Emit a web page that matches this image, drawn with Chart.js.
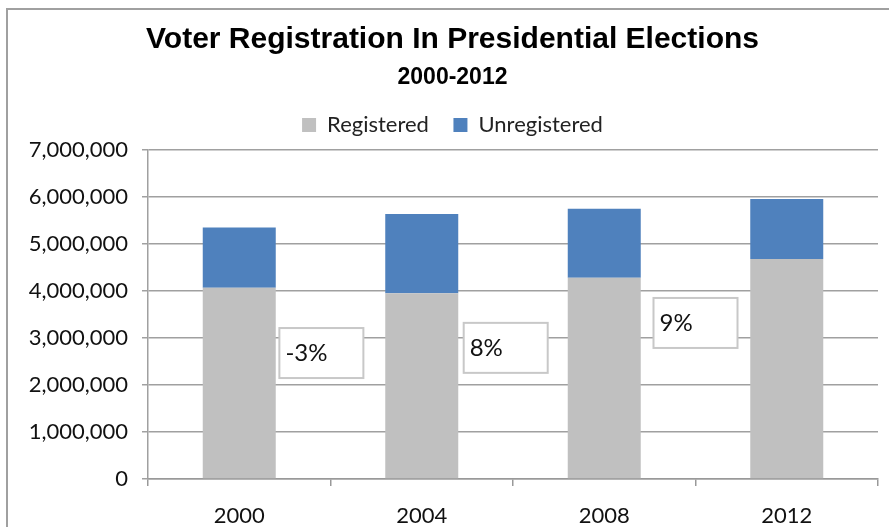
<!DOCTYPE html>
<html>
<head>
<meta charset="utf-8">
<script src="https://cdn.jsdelivr.net/npm/chart.js@4"></script>
<style>
  html, body { margin: 0; padding: 0; background: #fff; overflow: hidden; }
  #wrap { width: 889px; height: 527px; position: relative; }
</style>
</head>
<body>
<div id="wrap"><canvas id="c" width="889" height="527"></canvas></div>
<script>
const categories = ['2000', '2004', '2008', '2012'];
const registered = [4070000, 3950000, 4280000, 4680000];
const unregistered = [1280000, 1690000, 1470000, 1280000];
const yTicks = [0, 1000000, 2000000, 3000000, 4000000, 5000000, 6000000, 7000000];
const annoText = ['-3%', '8%', '9%'];
const annoX = [0.45, 1.46, 2.5];
const annoY = [2680000, 2790000, 3320000];

const FONT = 'Lato, "Open Sans", sans-serif';
const TITLE_FONT = '"Liberation Sans", Arial, sans-serif';
const LEGEND_BOX_HEIGHT = 60.5;

const frame = {
  id: 'frame',
  beforeLayout(chart) {
    const lg = chart.legend;
    if (lg && !lg._fixedFit) {
      const origFit = lg.fit;
      lg.fit = function () { origFit.call(this); this.height = LEGEND_BOX_HEIGHT; };
      lg._fixedFit = true;
    }
  },
  beforeDraw(chart) {
    const ctx = chart.ctx;
    ctx.save();
    ctx.fillStyle = '#fff';
    ctx.fillRect(0, 0, chart.width, chart.height);
    ctx.strokeStyle = '#a0a0a0';
    ctx.lineWidth = 2;
    ctx.strokeRect(7, 9, chart.width + 20, chart.height + 20);
    ctx.restore();
  }
};

const annotations = {
  id: 'annotations',
  afterDatasetsDraw(chart) {
    const ctx = chart.ctx;
    const xs = chart.scales.x, ys = chart.scales.y;
    const w = 84, h = 50;
    ctx.save();
    for (let i = 0; i < annoText.length; i++) {
      const cx = xs.getPixelForValue(annoX[i]);
      const cy = ys.getPixelForValue(annoY[i]);
      ctx.fillStyle = '#fff';
      ctx.fillRect(cx - w / 2, cy - h / 2, w, h);
      ctx.strokeStyle = '#c8c8c8';
      ctx.lineWidth = 2;
      ctx.strokeRect(cx - w / 2, cy - h / 2, w, h);
      ctx.fillStyle = '#111';
      ctx.font = '24px ' + FONT;
      ctx.textAlign = 'left';
      ctx.textBaseline = 'middle';
      ctx.fillText(annoText[i], cx - w / 2 + 6, cy);
    }
    ctx.restore();
  }
};

new Chart(document.getElementById('c'), {
  type: 'bar',
  data: {
    labels: categories,
    datasets: [
      { label: 'Registered', data: registered, backgroundColor: '#c0c0c0', borderWidth: 0 },
      { label: 'Unregistered', data: unregistered, backgroundColor: '#4f81bd', borderWidth: 0 }
    ]
  },
  options: {
    responsive: false,
    animation: false,
    devicePixelRatio: 1,
    layout: { padding: { left: 27, right: 11, top: 0, bottom: 0 } },
    datasets: { bar: { categoryPercentage: 1, barPercentage: 0.4 } },
    plugins: {
      title: {
        display: true,
        text: 'Voter Registration In Presidential Elections',
        color: '#000',
        font: { family: TITLE_FONT, size: 30, weight: 'bold', lineHeight: 1.2 },
        padding: { top: 22, bottom: 0 }
      },
      subtitle: {
        display: true,
        text: '2000-2012',
        color: '#000',
        font: { family: TITLE_FONT, size: 23, weight: 'bold', lineHeight: 1 },
        padding: { top: 8.5, bottom: 0 }
      },
      legend: {
        display: true,
        position: 'top',
        labels: {
          color: '#222',
          font: { family: FONT, size: 22 },
          boxWidth: 14,
          boxHeight: 14,
          padding: 24.5
        }
      },
      tooltip: { enabled: false }
    },
    scales: {
      x: {
        stacked: true,
        grid: { drawOnChartArea: false, drawTicks: true, tickLength: 7, color: '#999', lineWidth: 1.5 },
        border: { color: '#999', width: 1.5 },
        ticks: { color: '#111', font: { family: FONT, size: 22 }, padding: 17 },
        afterFit(scale) { scale.height = 48; }
      },
      y: {
        stacked: true,
        min: 0,
        max: 7000000,
        afterBuildTicks(scale) { scale.ticks = yTicks.map(v => ({ value: v })); },
        grid: { color: '#a0a0a0', lineWidth: 1.5, tickLength: 6 },
        border: { color: '#a0a0a0', width: 1.5 },
        ticks: {
          color: '#111',
          font: { family: FONT, size: 22 },
          padding: 14,
          callback: v => v.toLocaleString('en-US')
        },
        afterFit(scale) { scale.width = 121; }
      }
    }
  },
  plugins: [frame, annotations]
});
</script>
</body>
</html>
